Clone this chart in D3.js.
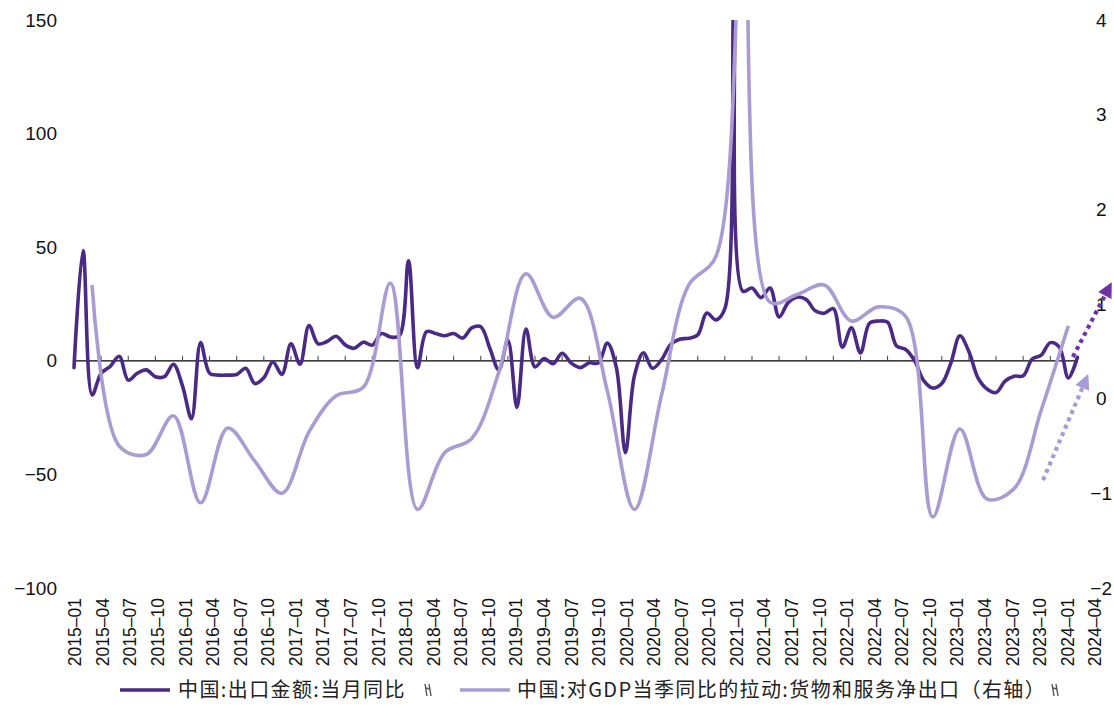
<!DOCTYPE html>
<html>
<head>
<meta charset="utf-8">
<script src="https://cdn.jsdelivr.net/npm/d3@7"></script>
<style>
  html, body { margin: 0; padding: 0; background: #ffffff; }
  svg { display: block; }
  text { font-family: "Liberation Sans", Arial, sans-serif; fill: #111; }
</style>
</head>
<body>
<svg id="chart" width="1114" height="727"></svg>
<script>
// China exports, monthly YoY (%), 2015-01 .. 2024-04 (left axis)
const exportYoY = [
  -3, 48.5, -15, -5.5, -2.5, 2, -8.5, -5.5, -4, -7, -7, -1.5,          // 2015
  -11, -25.5, 8, -5.5, -6.3, -6.3, -6, -3.3, -10, -7.5, -0.5, -6,     // 2016
  7.5, -1.5, 15.5, 7.5, 8.5, 10.8, 7, 5.5, 8.2, 6.9, 12, 10.5,        // 2017
  11, 44, -3, 12.8, 12, 11, 12, 10, 14.5, 15, 5.5, -4,                // 2018
  9, -20.5, 14, -2.7, 1, -1.3, 3.3, -1, -3, -0.9, -1, 7.8,            // 2019
  -3, -40.4, -6.5, 3.5, -3.3, 0.5, 7.2, 9.5, 9.9, 11.4, 21, 18,       // 2020
  23, 154.9, 30.6, 32, 27.8, 32, 19.3, 25.6, 28, 27, 22, 20.9,        // 2021
  23, 6, 14.5, 3.5, 16.5, 17.5, 17, 6.5, 5, 0, -8.7, -12,             // 2022
  -10, -1, 11, 4, -7.5, -12.4, -14, -9, -6.8, -6.6, 0.8, 2.5,         // 2023
  8, 6, -7.5, 1.5                                                      // 2024
];

// Net exports of goods & services: pull on quarterly GDP YoY (pp), 2015Q1 .. 2024Q1 (right axis)
const quarterEndMonth = [
  2, 5, 8, 11, 14, 17, 20, 23, 26, 29, 32, 35, 38, 41, 44, 47, 50, 53, 56,
  59, 62, 65, 68, 71, 74, 77, 80, 83, 86, 89, 92, 95, 98, 101, 104, 107, 110
];
const netExportPull = [
  1.2, -0.5, -0.59, -0.18,
  -1.1, -0.31, -0.66, -1.0,
  -0.35, 0.03, 0.12, 1.22,
  -1.17, -0.57, -0.42, 0.28,
  1.32, 0.86, 1.06, 0.08,
  -1.17, 0.04, 1.2, 1.5,
  5.2, 1.02, 1.1, 1.2,
  0.82, 0.97, 0.87, -1.25,
  -0.32, -1.06, -0.95, -0.12,
  0.77
];

const xLabels = [
  "2015-01","2015-04","2015-07","2015-10","2016-01","2016-04","2016-07","2016-10",
  "2017-01","2017-04","2017-07","2017-10","2018-01","2018-04","2018-07","2018-10",
  "2019-01","2019-04","2019-07","2019-10","2020-01","2020-04","2020-07","2020-10",
  "2021-01","2021-04","2021-07","2021-10","2022-01","2022-04","2022-07","2022-10",
  "2023-01","2023-04","2023-07","2023-10","2024-01","2024-04"
];
const leftTicks = [-100, -50, 0, 50, 100, 150];
const rightTicks = [-2, -1, 0, 1, 2, 3, 4];

const seriesNames = [
  "中国:出口金额:当月同比",
  "中国:对GDP当季同比的拉动:货物和服务净出口（右轴）"
];
const darkColor = "#4b2a86";
const lightColor = "#a99cd2";

const svg = d3.select("#chart");
const plotTop = 20, plotBottom = 588;

// month index (0 = 2015-01) -> pixel
const x = d3.scaleLinear().domain([0, 111]).range([74, 1077.4]);
const yL = d3.scaleLinear().domain([-100, 150]).range([plotBottom, plotTop]);
const yR = d3.scaleLinear().domain([-2, 4]).range([plotBottom, plotTop]);
const xLab = d3.scalePoint().domain(xLabels).range([75, 1095]);

svg.append("defs").append("clipPath").attr("id", "plot-clip")
  .append("rect").attr("x", 0).attr("y", plotTop).attr("width", 1114).attr("height", plotBottom - plotTop);

const fmt = d => d < 0 ? "\u2212" + Math.abs(d) : String(d);

// Left axis labels
svg.append("g").selectAll("text").data(leftTicks).join("text")
  .attr("x", 57).attr("y", d => yL(d)).attr("dy", "0.35em")
  .attr("text-anchor", "end").style("font-size", "19px")
  .text(fmt);

// Right axis labels (negative ones kept inside the right edge)
svg.append("g").selectAll("text").data(rightTicks).join("text")
  .attr("x", d => d < 0 ? 1112 : 1096).attr("y", d => yR(d)).attr("dy", "0.35em")
  .attr("text-anchor", d => d < 0 ? "end" : "start").style("font-size", "19px")
  .text(fmt);

// Zero line with small quarterly ticks
const axisG = svg.append("g");
axisG.append("line")
  .attr("x1", x(0)).attr("x2", x(exportYoY.length - 1))
  .attr("y1", yL(0)).attr("y2", yL(0))
  .attr("stroke", "#000").attr("stroke-width", 1.2);
axisG.selectAll("line.tick").data(d3.range(0, 112, 3)).join("line")
  .attr("class", "tick")
  .attr("x1", d => x(d)).attr("x2", d => x(d))
  .attr("y1", yL(0)).attr("y2", yL(0) - 5)
  .attr("stroke", "#444").attr("stroke-width", 1);

// Rotated date labels
svg.append("g").selectAll("text").data(xLabels).join("text")
  .attr("transform", d => `translate(${xLab(d) + 6.3},598) rotate(-90)`)
  .attr("text-anchor", "end").style("font-size", "17.5px")
  .text(d => d.replace("-", "\u2013"));

// Series lines
const plot = svg.append("g").attr("clip-path", "url(#plot-clip)");
const curve = d3.curveCatmullRom.alpha(0.5);

plot.append("path")
  .datum(exportYoY)
  .attr("fill", "none").attr("stroke", darkColor).attr("stroke-width", 3.6)
  .attr("stroke-linejoin", "round").attr("stroke-linecap", "round")
  .attr("d", d3.line().x((d, i) => x(i)).y(d => yL(d)).curve(curve));

plot.append("path")
  .datum(netExportPull.map((v, i) => [quarterEndMonth[i], v]))
  .attr("fill", "none").attr("stroke", lightColor).attr("stroke-width", 3.6)
  .attr("stroke-linejoin", "round")
  .attr("d", d3.line().x(d => x(d[0])).y(d => yR(d[1])).curve(curve));

// Dotted trend arrows at the right end
function arrow(x1, y1, x2, y2, color, head) {
  const ang = Math.atan2(y2 - y1, x2 - x1);
  const bx = x2 - head * Math.cos(ang), by = y2 - head * Math.sin(ang);
  svg.append("line")
    .attr("x1", x1).attr("y1", y1).attr("x2", bx).attr("y2", by)
    .attr("stroke", color).attr("stroke-width", 4.2).attr("stroke-dasharray", "4 4");
  const w = head * 0.5;
  const px = -Math.sin(ang) * w, py = Math.cos(ang) * w;
  svg.append("path")
    .attr("d", `M${x2},${y2}L${bx + px},${by + py}L${bx - px},${by - py}Z`)
    .attr("fill", color);
}
arrow(x(110.5), yL(1.7), x(114.8), yR(1.23), "#7133a2", 15);
arrow(x(107.2), yR(-0.86), x(112.2), yR(0.26), "#a89bd5", 15);

// Legend
const legend = svg.append("g");
const legendItems = [
  { name: seriesNames[0], color: darkColor, x0: 120, tx: 178, icon: 428 },
  { name: seriesNames[1], color: lightColor, x0: 460, tx: 517, icon: 1055 }
];
legendItems.forEach(it => {
  legend.append("line")
    .attr("x1", it.x0).attr("x2", it.x0 + 50).attr("y1", 690).attr("y2", 690)
    .attr("stroke", it.color).attr("stroke-width", 3.6);
  legend.append("text")
    .attr("x", it.tx).attr("y", 690).attr("dy", "0.36em")
    .style("font-family", "'Noto Sans CJK SC', sans-serif")
    .style("font-size", "20px").style("letter-spacing", "1.4px").style("fill", "#222")
    .text(it.name);
  const ic = legend.append("g").attr("transform", `translate(${it.icon},690)`)
    .attr("stroke", "#555").attr("stroke-width", 1.4).attr("fill", "none");
  ic.append("path").attr("d", "M-3,-6L-1,6");
  ic.append("path").attr("d", "M1,-6L3,6");
  ic.append("path").attr("d", "M-2,-2L2,-1");
});
</script>
</body>
</html>
